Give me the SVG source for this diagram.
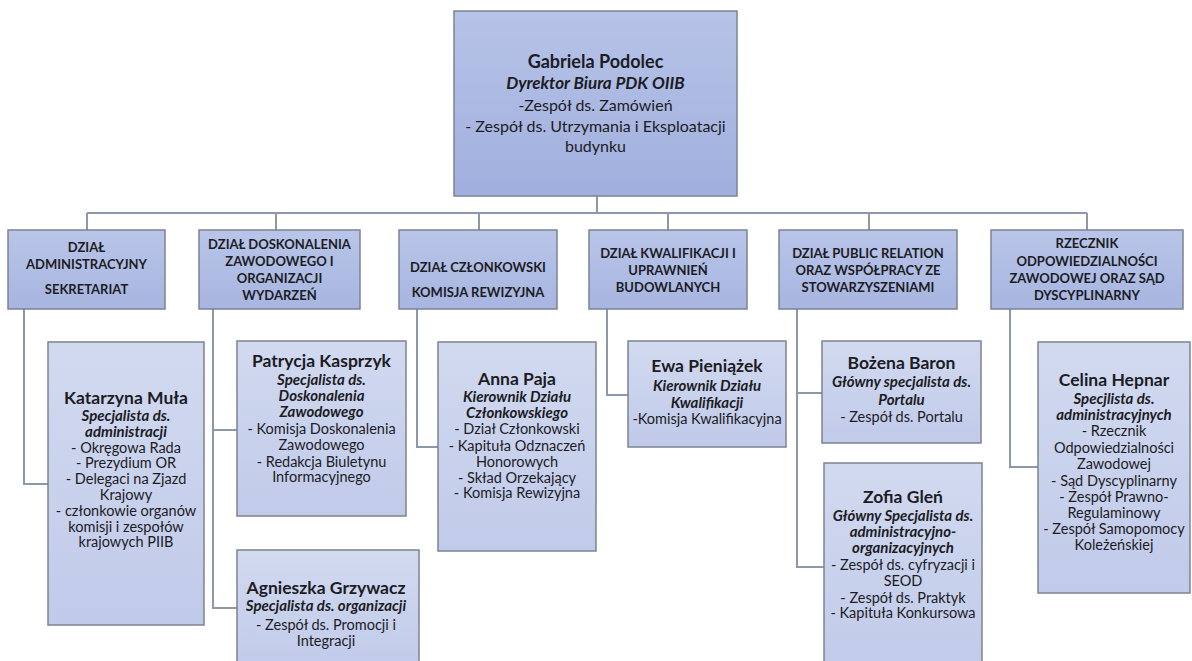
<svg xmlns="http://www.w3.org/2000/svg" width="1192" height="661" viewBox="0 0 1192 661">
<defs>
<linearGradient id="gTop" x1="0" y1="0" x2="0" y2="1"><stop offset="0" stop-color="#b7c3e7"/><stop offset="1" stop-color="#a0afde"/></linearGradient>
<linearGradient id="gDept" x1="0" y1="0" x2="0" y2="1"><stop offset="0" stop-color="#b9c5e8"/><stop offset="1" stop-color="#a7b5e0"/></linearGradient>
<linearGradient id="gPers" x1="0" y1="0" x2="0" y2="1"><stop offset="0" stop-color="#d2daf0"/><stop offset="1" stop-color="#c0cae9"/></linearGradient>
<style>
.box{stroke:#7c8390;stroke-width:1.5}
.top{fill:url(#gTop)}
.dept{fill:url(#gDept)}
.pers{fill:url(#gPers)}
text{font-family:Lato,"Open Sans","Liberation Sans",sans-serif;fill:#1c1c24;text-anchor:middle}
.nm{font-weight:bold;font-size:17.5px}
.ti{font-weight:bold;font-style:italic;font-size:15px}
.bd{font-size:14.5px}
.dp{font-weight:bold;font-size:13px}
.tn{font-weight:bold;font-size:18px}
.tt{font-weight:bold;font-style:italic;font-size:17px}
.tb{font-size:16px}
#connectors path{fill:none;stroke:#8d99ab;stroke-width:2}
</style>
</defs>
<rect width="1192" height="661" fill="#ffffff"/>
<g id="connectors">
<path d="M597,196 V213"/>
<path d="M87,213 H1087"/>
<path d="M87,213 V230 M276,213 V230 M479,213 V230 M668,213 V230 M869,213 V230 M1087,213 V230"/>
<path d="M24,309 V484 H48"/>
<path d="M213,309 V608 H237 M213,430 H237"/>
<path d="M417,309 V447 H438"/>
<path d="M607,309 V395 H628"/>
<path d="M797,309 V567 H824 M797,393 H822"/>
<path d="M1010,309 V467 H1038"/>
</g>
<g id="director">
<rect class="box top" x="454" y="11" width="283" height="185"/>
<text x="595.5" y="68" class="tn">Gabriela Podolec</text>
<text x="595.5" y="89" class="tt">Dyrektor Biura PDK OIIB</text>
<text x="595.5" y="111" class="tb">-Zespół ds. Zamówień</text>
<text x="595.5" y="132" class="tb">- Zespół ds. Utrzymania i Eksploatacji</text>
<text x="595.5" y="152" class="tb">budynku</text>
</g>
<g id="dept1">
<rect class="box dept" x="8" y="230" width="157" height="79"/>
<text x="86.5" y="252" class="dp">DZIAŁ</text>
<text x="86.5" y="269" class="dp">ADMINISTRACYJNY</text>
<text x="86.5" y="294" class="dp">SEKRETARIAT</text>
</g>
<g id="dept2">
<rect class="box dept" x="199" y="230" width="161" height="79"/>
<text x="279.5" y="249" class="dp">DZIAŁ DOSKONALENIA</text>
<text x="279.5" y="266" class="dp">ZAWODOWEGO I</text>
<text x="279.5" y="283" class="dp">ORGANIZACJI</text>
<text x="279.5" y="300" class="dp">WYDARZEŃ</text>
</g>
<g id="dept3">
<rect class="box dept" x="399" y="230" width="158" height="79"/>
<text x="478" y="272" class="dp">DZIAŁ CZŁONKOWSKI</text>
<text x="478" y="297" class="dp">KOMISJA REWIZYJNA</text>
</g>
<g id="dept4">
<rect class="box dept" x="589" y="230" width="158" height="79"/>
<text x="668" y="258" class="dp">DZIAŁ KWALIFIKACJI I</text>
<text x="668" y="275" class="dp">UPRAWNIEŃ</text>
<text x="668" y="292" class="dp">BUDOWLANYCH</text>
</g>
<g id="dept5">
<rect class="box dept" x="779" y="230" width="178" height="79"/>
<text x="868" y="258" class="dp">DZIAŁ PUBLIC RELATION</text>
<text x="868" y="275" class="dp">ORAZ WSPÓŁPRACY ZE</text>
<text x="868" y="292" class="dp">STOWARZYSZENIAMI</text>
</g>
<g id="dept6">
<rect class="box dept" x="991" y="230" width="192" height="79"/>
<text x="1087" y="248" class="dp">RZECZNIK</text>
<text x="1087" y="266" class="dp">ODPOWIEDZIALNOŚCI</text>
<text x="1087" y="283" class="dp">ZAWODOWEJ ORAZ SĄD</text>
<text x="1087" y="300" class="dp">DYSCYPLINARNY</text>
</g>
<g id="katarzyna">
<rect class="box pers" x="48" y="342" width="156" height="283"/>
<text x="126" y="404" class="nm">Katarzyna Muła</text>
<text x="126" y="421" class="ti">Specjalista ds.</text>
<text x="126" y="437" class="ti">administracji</text>
<text x="126" y="453" class="bd">- Okręgowa Rada</text>
<text x="126" y="468" class="bd">- Prezydium OR</text>
<text x="126" y="484" class="bd">- Delegaci na Zjazd</text>
<text x="126" y="500" class="bd">Krajowy</text>
<text x="126" y="516" class="bd">- członkowie organów</text>
<text x="126" y="532" class="bd">komisji i zespołów</text>
<text x="126" y="547" class="bd">krajowych PIIB</text>
</g>
<g id="patrycja">
<rect class="box pers" x="237" y="341" width="169" height="175"/>
<text x="321.5" y="367" class="nm">Patrycja Kasprzyk</text>
<text x="321.5" y="385" class="ti">Specjalista ds.</text>
<text x="321.5" y="401" class="ti">Doskonalenia</text>
<text x="321.5" y="417" class="ti">Zawodowego</text>
<text x="321.5" y="434" class="bd">- Komisja Doskonalenia</text>
<text x="321.5" y="450" class="bd">Zawodowego</text>
<text x="321.5" y="467" class="bd">- Redakcja Biuletynu</text>
<text x="321.5" y="482" class="bd">Informacyjnego</text>
</g>
<g id="agnieszka">
<rect class="box pers" x="237" y="550" width="182" height="120"/>
<text x="326" y="594" class="nm">Agnieszka Grzywacz</text>
<text x="326" y="611" class="ti">Specjalista ds. organizacji</text>
<text x="326" y="630" class="bd">- Zespół ds. Promocji i</text>
<text x="326" y="646" class="bd">Integracji</text>
</g>
<g id="anna">
<rect class="box pers" x="438" y="342" width="158" height="209"/>
<text x="517" y="385" class="nm">Anna Paja</text>
<text x="517" y="402" class="ti">Kierownik Działu</text>
<text x="517" y="418" class="ti">Członkowskiego</text>
<text x="517" y="434" class="bd">- Dział Członkowski</text>
<text x="517" y="451" class="bd">- Kapituła Odznaczeń</text>
<text x="517" y="467" class="bd">Honorowych</text>
<text x="517" y="483" class="bd">- Skład Orzekający</text>
<text x="517" y="498" class="bd">- Komisja Rewizyjna</text>
</g>
<g id="ewa">
<rect class="box pers" x="628" y="341" width="158" height="106"/>
<text x="707" y="372" class="nm">Ewa Pieniążek</text>
<text x="707" y="391" class="ti">Kierownik Działu</text>
<text x="707" y="408" class="ti">Kwalifikacji</text>
<text x="707" y="424" class="bd">-Komisja Kwalifikacyjna</text>
</g>
<g id="bozena">
<rect class="box pers" x="822" y="341" width="159" height="102"/>
<text x="901.5" y="369" class="nm">Bożena Baron</text>
<text x="901.5" y="387" class="ti">Główny specjalista ds.</text>
<text x="901.5" y="405" class="ti">Portalu</text>
<text x="901.5" y="422" class="bd">- Zespół ds. Portalu</text>
</g>
<g id="zofia">
<rect class="box pers" x="824" y="463" width="158" height="210"/>
<text x="903" y="503" class="nm">Zofia Gleń</text>
<text x="903" y="521" class="ti">Główny Specjalista ds.</text>
<text x="903" y="537" class="ti">administracyjno-</text>
<text x="903" y="553" class="ti">organizacyjnych</text>
<text x="903" y="570" class="bd">- Zespół ds. cyfryzacji i</text>
<text x="903" y="586" class="bd">SEOD</text>
<text x="903" y="603" class="bd">- Zespół ds. Praktyk</text>
<text x="903" y="618" class="bd">- Kapituła Konkursowa</text>
</g>
<g id="celina">
<rect class="box pers" x="1038" y="342" width="152" height="251"/>
<text x="1114" y="386" class="nm">Celina Hepnar</text>
<text x="1114" y="404" class="ti">Specjlista ds.</text>
<text x="1114" y="420" class="ti">administracyjnych</text>
<text x="1114" y="436" class="bd">- Rzecznik</text>
<text x="1114" y="453" class="bd">Odpowiedzialności</text>
<text x="1114" y="469" class="bd">Zawodowej</text>
<text x="1114" y="486" class="bd">- Sąd Dyscyplinarny</text>
<text x="1114" y="502" class="bd">- Zespół Prawno-</text>
<text x="1114" y="518" class="bd">Regulaminowy</text>
<text x="1114" y="534" class="bd">- Zespół Samopomocy</text>
<text x="1114" y="550" class="bd">Koleżeńskiej</text>
</g>
</svg>
